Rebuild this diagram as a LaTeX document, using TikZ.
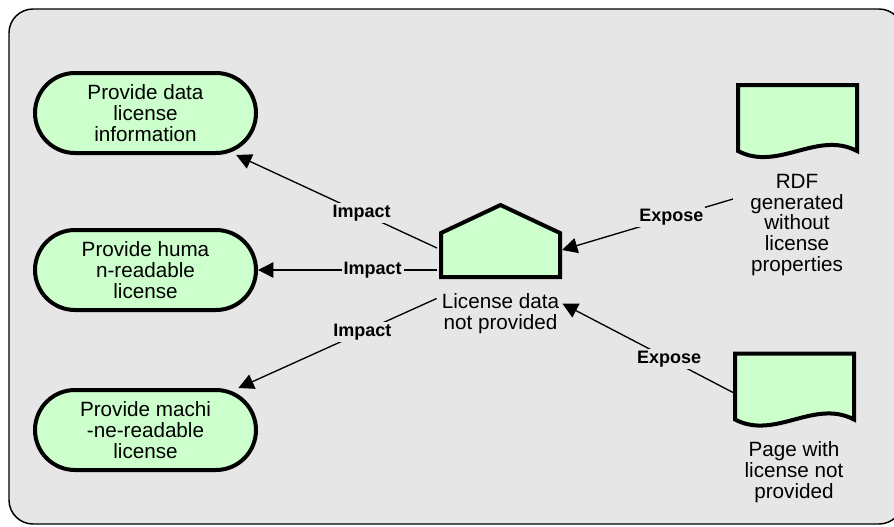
\documentclass[tikz,border=0pt]{standalone}
\usepackage{fontspec}
\setmainfont{Liberation Sans}
\usetikzlibrary{arrows.meta,calc}
\definecolor{goalgreen}{HTML}{CCFFCC}
\definecolor{panelgray}{HTML}{E6E6E6}
\tikzset{
  goal/.style={rectangle,draw,line width=3pt,fill=goalgreen,rounded corners=30pt,
    minimum width=165.75pt,minimum height=60pt,inner sep=0pt,align=center,
    font=\fontsize{15.5}{15.5}\selectfont},
  box/.style={rectangle,inner sep=0pt,outer sep=0pt},
  caption/.style={align=center,inner sep=0pt,font=\fontsize{15.5}{15.5}\selectfont},
  outline/.style={draw,line width=3pt,fill=goalgreen,line join=miter},
  link/.style={draw,line width=1pt,-{Triangle[length=11.5pt,width=11.5pt]}},
  tag/.style={fill=panelgray,inner sep=1.5pt,font=\bfseries\fontsize{13.5}{13.5}\selectfont}
}
\begin{document}
\begin{tikzpicture}[x=0.75pt,y=-0.75pt]
  \useasboundingbox (0,0) rectangle (894,526);
  \clip (0,0) rectangle (894,526);
  \draw[line width=1.1pt,fill=panelgray,rounded corners=18pt] (9,9) rectangle (903,524);

  \node[goal] (provideinfo) at (145.5,113) {Provide data\\license\\information};
  \node[goal] (providehuman) at (145.5,270) {Provide huma\\n-readable\\license};
  \node[goal] (providemachine) at (145.5,430) {Provide machi\\-ne-readable\\license};

  \node[box,minimum width=89.25pt,minimum height=54pt] (notprovided) at (500.5,241) {};
  \draw[outline] (notprovided.south west) -- (notprovided.south east) --
    ($(notprovided.north east)+(0,28)$) -- (notprovided.north) --
    ($(notprovided.north west)+(0,28)$) -- cycle;
  \node[caption] (notprovidedtext) at (500.5,313.5) {License data\\not provided};

  \node[box,minimum width=89.25pt,minimum height=49.5pt] (rdfgen) at (797.5,118) {};
  \draw[outline] (rdfgen.south west) -- (rdfgen.north west) -- (rdfgen.north east) --
    (rdfgen.south east) .. controls ($(rdfgen.south east)+(-40,-21)$) and
    ($(rdfgen.south west)+(40,21)$) .. (rdfgen.south west) -- cycle;
  \node[caption] (rdfgentext) at (797,225) {RDF\\generated\\without\\license\\properties};

  \node[box,minimum width=89.25pt,minimum height=49.5pt] (pagenot) at (794.5,386.5) {};
  \draw[outline] (pagenot.south west) -- (pagenot.north west) -- (pagenot.north east) --
    (pagenot.south east) .. controls ($(pagenot.south east)+(-40,-21)$) and
    ($(pagenot.south west)+(40,21)$) .. (pagenot.south west) -- cycle;
  \node[caption] (pagenottext) at (794,472) {Page with\\license not\\provided};

  \draw[link] ($(notprovided.west)+(-4,7)$) -- node[tag,pos=0.375] {Impact} (provideinfo);
  \draw[link] ($(notprovided.west)+(-4,29)$) -- node[tag,pos=0.36] {Impact} (providehuman);
  \draw[link] ($(notprovidedtext.west)+(-5,-15)$) -- node[tag,pos=0.375] {Impact} (providemachine);
  \draw[link] ($(rdfgen.south west)+(-5,48)$) -- node[tag,pos=0.36] {Expose}
    ($(notprovided.east)+(2,9)$);
  \draw[link] ($(pagenot.west)+(-2,6)$) -- node[tag,pos=0.375] {Expose}
    ($(notprovidedtext.east)+(3,-10)$);
\end{tikzpicture}
\end{document}
